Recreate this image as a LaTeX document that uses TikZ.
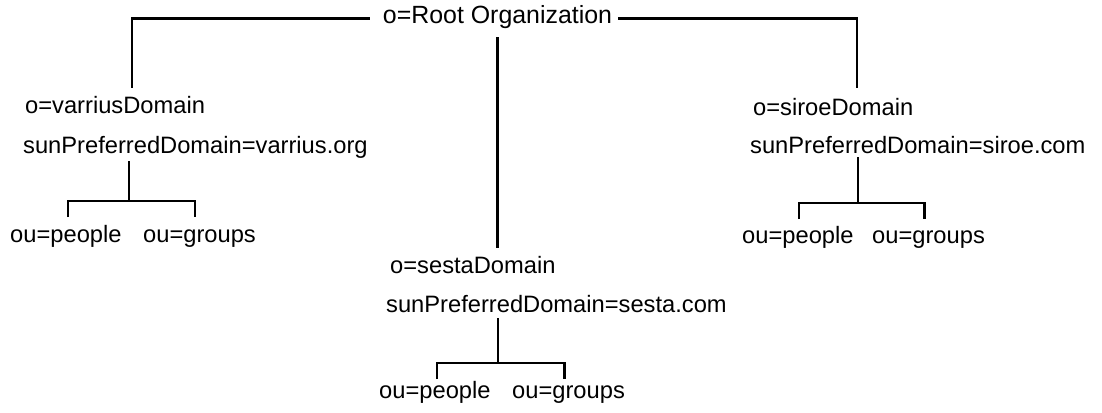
\documentclass[tikz,border=0pt]{standalone}
\usepackage{fontspec}
\setmainfont{Liberation Sans}
\usetikzlibrary{calc}
\begin{document}
\begin{tikzpicture}[x=1pt,y=-1pt,
  lbl/.style={inner sep=0pt,anchor=base west,font=\fontsize{23.7pt}{28pt}\selectfont},
  conn/.style={line width=2.2pt}]
\useasboundingbox (0,0) rectangle (1102,412);
% nodes
\node[lbl,anchor=base,font=\fontsize{24.9pt}{28pt}\selectfont] (root) at (497.5,24) {o=Root Organization};
\node[lbl] (varriusD) at (25,113) {o=varriusDomain};
\node[lbl] (varriusP) at (23,153) {sunPreferredDomain=varrius.org};
\node[lbl] (vPeople) at (10,242) {ou=people};
\node[lbl] (vGroups) at (143,242) {ou=groups};
\node[lbl] (siroeD) at (753,115) {o=siroeDomain};
\node[lbl] (siroeP) at (750,153) {sunPreferredDomain=siroe.com};
\node[lbl] (sPeople) at (742,243) {ou=people};
\node[lbl] (sGroups) at (872,243) {ou=groups};
\node[lbl] (sestaD) at (390,273) {o=sestaDomain};
\node[lbl] (sestaP) at (386,312) {sunPreferredDomain=sesta.com};
\node[lbl] (cPeople) at (379,398) {ou=people};
\node[lbl] (cGroups) at (512,398) {ou=groups};
% junctions
\coordinate (vj) at (129,201);
\coordinate (sj) at (858,203);
\coordinate (cj) at (498,363);
% root connectors
\draw[conn] ($(root.base west)+(-13,-5.5)$) -| ($(varriusD.north west)+(107,-8)$);
\draw[conn] ($(root.base east)+(6,-5.5)$) -| ($(siroeD.north west)+(104,-10)$);
\draw[conn] ($(root.south)+(0,8)$) -- ($(root.south |- sestaD.north)+(0,-8)$);
% varrius subtree
\draw[conn] ($(vj |- varriusP.south)+(0,3)$) -- (vj);
\draw[conn] ($(vPeople.north |- vj)+(2,16)$) |- (vj) -| ($(vGroups.north |- vj)+(-4.5,16)$);
% siroe subtree
\draw[conn] ($(sj |- siroeP.south)+(0,4)$) -- (sj);
\draw[conn] ($(sPeople.north |- sj)+(1.5,16)$) |- (sj) -| ($(sGroups.north |- sj)+(-4,16)$);
% sesta subtree
\draw[conn] ($(cj |- sestaP.south)+(0,6)$) -- (cj);
\draw[conn] ($(cPeople.north |- cj)+(2.5,16)$) |- (cj) -| ($(cGroups.north |- cj)+(-4,16)$);
\end{tikzpicture}
\end{document}
